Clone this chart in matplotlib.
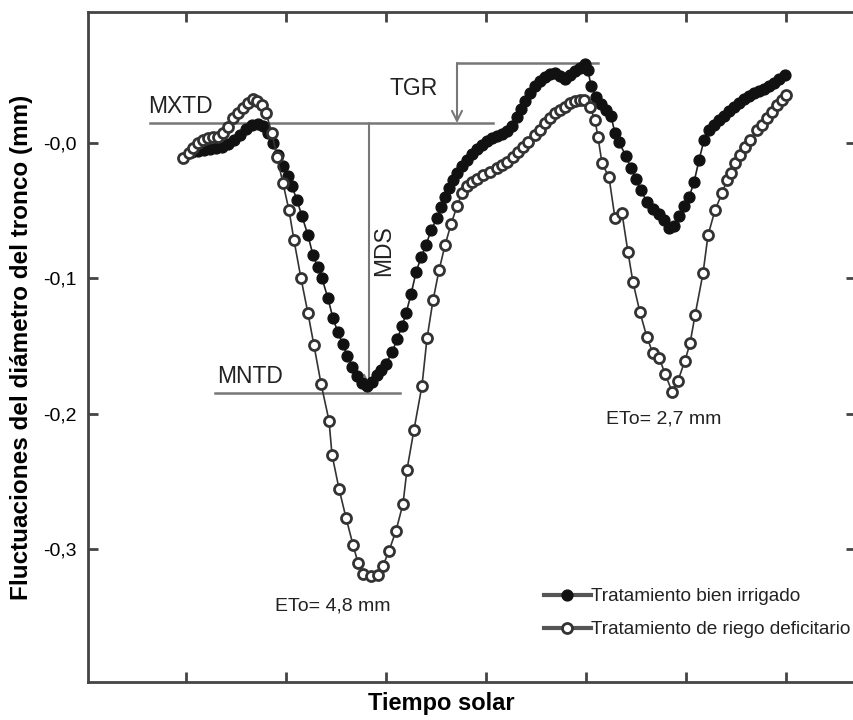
import matplotlib
matplotlib.use("Agg")
import matplotlib.pyplot as plt
from matplotlib.lines import Line2D
import numpy as np

plt.rcParams['font.family'] = ['Liberation Sans', 'DejaVu Sans']

# ---- data (x: solar time, tick units; y: trunk diameter fluctuation, mm) ----
# pixel readings converted: x=(px-86)/100, y=(143-py)/1350
filled_px = [192,198,204,210,216,222,228,234,240,246,252,258,263,268,273,278,283,288,292,297,
             302,308,313,318,322,328,333,338,343,347,352,357,362,367,372,377,381,386,392,397,
             402,406,411,416,421,426,431,437,441,445,449,453,457,462,467,472,477,482,487,492,
             497,502,507,512,517,521,525,530,535,540,545,550,555,560,565,570,575,580,585,588,
             591,596,601,606,611,615,619,626,631,636,641,647,653,659,664,669,674,679,684,689,
             694,699,704,709,714,719,724,729,734,739,744,749,754,759,764,769,774,779,785]
filled_py = [152,151,150,149,148,147,144,140,135,129,125,124,126,133,143,155,166,176,186,200,
             216,235,255,267,278,298,318,332,344,355,366,375,382,385,381,374,369,363,352,339,
             326,313,294,272,257,245,230,218,207,197,188,180,173,166,160,154,149,145,141,138,
             136,134,131,126,117,109,101,93,86,81,77,74,73,76,79,75,71,68,64,70,
             86,97,104,110,116,133,142,156,168,179,190,202,209,214,220,228,226,216,206,197,
             182,160,140,130,125,120,116,111,107,103,99,96,93,91,89,86,83,79,75]

open_px = [183,189,193,198,203,208,213,218,223,228,233,238,243,248,253,257,262,266,272,277,
           283,289,294,301,308,314,321,329,332,339,346,353,358,363,371,378,383,389,396,403,
           407,414,422,427,433,439,445,451,457,462,467,472,477,483,490,497,502,507,513,518,
           523,528,535,540,545,550,555,560,565,570,575,580,584,590,595,598,602,609,615,622,
           628,633,640,647,653,659,665,672,678,685,690,695,703,708,715,722,727,731,735,740,
           745,750,757,762,767,772,777,782,786]
open_py = [158,153,148,143,140,138,137,137,133,127,118,113,108,103,99,101,105,113,133,157,
           183,210,240,278,313,345,383,420,454,488,517,544,562,573,575,574,565,550,530,503,
           469,429,385,338,300,270,245,224,206,193,186,182,179,175,172,168,165,162,157,152,
           147,142,135,130,123,118,113,110,107,103,101,100,100,107,120,137,163,177,218,213,
           252,282,312,337,353,357,373,391,380,360,343,315,273,235,210,193,180,173,163,155,
           147,140,130,125,118,112,105,100,95]

x_filled = [(p - 86) / 100 for p in filled_px]
y_filled = [(143 - p) / 1350 for p in filled_py]
x_open = [(p - 86) / 100 for p in open_px]
y_open = [(143 - p) / 1350 for p in open_py]

y_ticks = [0.0, -0.1, -0.2, -0.3]
y_ticklabels = ["-0,0", "-0,1", "-0,2", "-0,3"]
x_ticks = [1, 2, 3, 4, 5, 6, 7]

series_labels = ["Tratamiento bien irrigado", "Tratamiento de riego deficitario"]

# annotation reference levels
mxtd_y = 0.0148
tgr_top_y = 0.0593
mntd_y = -0.1844

AX_L, AX_R, AX_T, AX_B = 88, 856, 12, 682
fig = plt.figure(figsize=(8.54, 7.20), dpi=100)
ax = fig.add_axes([AX_L/854, 1-AX_B/720, (AX_R-AX_L)/854, (AX_B-AX_T)/720])
AXW, AXH = AX_R - AX_L, AX_B - AX_T

ax.plot(x_filled, y_filled, '-', color='#222222', lw=1.2, marker='o', ms=7.8,
        mfc='#111111', mec='#111111', mew=1, zorder=3)
ax.plot(x_open, y_open, '-', color='#333333', lw=1.2, marker='o', ms=7.2,
        mfc='white', mec='#333333', mew=2, zorder=4)

gray = '#777777'
ax.plot([0.64, 4.07], [mxtd_y, mxtd_y], color=gray, lw=1.8, zorder=2)
ax.plot([3.71, 5.12], [tgr_top_y, tgr_top_y], color=gray, lw=1.8, zorder=2)
ax.plot([1.29, 3.14], [mntd_y, mntd_y], color=gray, lw=1.8, zorder=2)
ax.annotate('', xy=(3.71, mxtd_y), xytext=(3.71, tgr_top_y),
            arrowprops=dict(arrowstyle='->', color=gray, lw=1.5,
                            mutation_scale=18, shrinkA=0, shrinkB=0), zorder=2)
ax.annotate('', xy=(2.83, mntd_y + 0.004), xytext=(2.83, mxtd_y),
            arrowprops=dict(arrowstyle='->', color=gray, lw=1.5,
                            mutation_scale=18, shrinkA=0, shrinkB=0), zorder=2)

fs_lab = 16.5
ax.text(0.62, 0.0274, "MXTD", fontsize=fs_lab, ha='left', va='center', color='#222222')
ax.text(3.04, 0.0407, "TGR", fontsize=fs_lab, ha='left', va='center', color='#222222')
ax.text(2.98, -0.0793, "MDS", fontsize=fs_lab, ha='center', va='center', rotation=90, color='#222222')
ax.text(1.31, -0.1726, "MNTD", fontsize=fs_lab, ha='left', va='center', color='#222222')
ax.text(2.47, -0.342, "ETo= 4,8 mm", fontsize=14, ha='center', va='center', color='#222222')
ax.text(5.78, -0.2037, "ETo= 2,7 mm", fontsize=14, ha='center', va='center', color='#222222')

handles = [
    Line2D([], [], color='#555555', lw=3, marker='o', ms=7.8, mfc='#111111', mec='#111111'),
    Line2D([], [], color='#555555', lw=3, marker='o', ms=7.2, mfc='white', mec='#333333', mew=2),
]
leg = ax.legend(handles, series_labels, loc='upper left',
                bbox_to_anchor=((544-AX_L)/AXW, (AX_B-588)/AXH),
                frameon=False, fontsize=13.7, handlelength=2.45, handletextpad=0.0,
                labelspacing=0.82, borderpad=0, borderaxespad=0)
for t in leg.get_texts():
    t.set_color('#222222')

ax.set_xlim((AX_L-86)/100, (AX_R-86)/100)
ax.set_ylim(-0.3985, 0.097)
ax.set_xticks(x_ticks)
ax.set_xticklabels([])
ax.set_yticks(y_ticks)
ax.set_yticklabels(y_ticklabels, fontsize=14)
ax.tick_params(direction='in', length=7, width=2, color='#444444',
               top=True, right=True, pad=8)
for s in ax.spines.values():
    s.set_color('#444444')
    s.set_linewidth(2)

ax.set_xlabel("Tiempo solar", fontsize=17, fontweight='bold')
ax.xaxis.set_label_coords((441-AX_L)/AXW, -0.015)
ax.set_ylabel("Fluctuaciones del diámetro del tronco (mm)", fontsize=17.5, fontweight='bold')
ax.yaxis.set_label_coords((33-AX_L)/AXW, 0.5)

fig.savefig("out.png", dpi=100)
